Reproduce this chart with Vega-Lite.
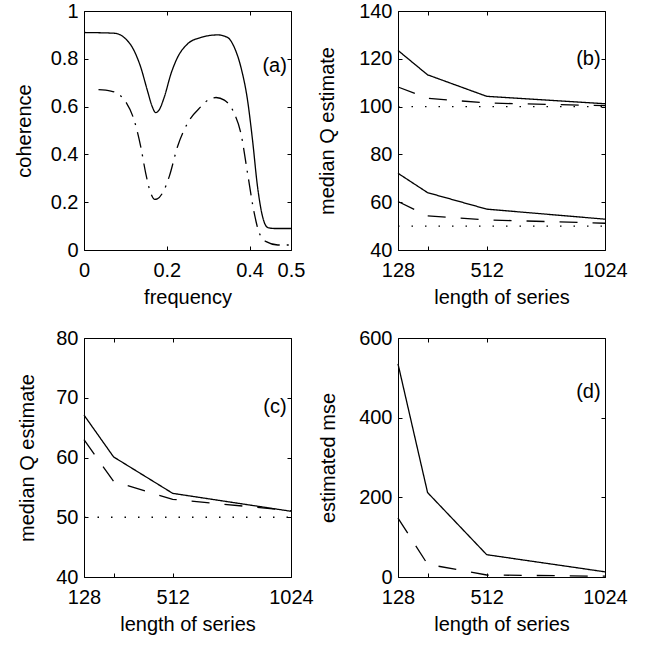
{
  "$schema": "https://vega.github.io/schema/vega-lite/v6.json",
  "background": "white",
  "padding": {"left": 13, "top": 0, "right": 5, "bottom": 5},
  "columns": 2,
  "spacing": {"row": 88, "column": 107},
  "bounds": "flush",
  "config": {
    "view": {"stroke": "black", "strokeWidth": 1},
    "font": "Liberation Sans",
    "text": {"font": "Liberation Sans", "fontSize": 20, "color": "black"},
    "axis": {
      "labelFont": "Liberation Sans", "labelFontSize": 20, "labelColor": "black",
      "titleFont": "Liberation Sans", "titleFontSize": 20, "titleFontWeight": "normal", "titleColor": "black",
      "tickColor": "black", "tickWidth": 1, "tickSize": -4, "domain": false, "grid": false,
      "labelOverlap": false, "labelFlush": false, "labelBound": false
    },
    "axisX": {"labelPadding": 14, "titlePadding": 7},
    "axisY": {"labelPadding": 10, "titlePadding": 10}
  },
  "datasets": {
    "a": [
      {"f": 0, "coh": 0.91, "series": "solid"},
      {"f": 0.073, "coh": 0.907, "series": "solid"},
      {"f": 0.097, "coh": 0.889, "series": "solid"},
      {"f": 0.121, "coh": 0.834, "series": "solid"},
      {"f": 0.137, "coh": 0.765, "series": "solid"},
      {"f": 0.153, "coh": 0.668, "series": "solid"},
      {"f": 0.165, "coh": 0.599, "series": "solid"},
      {"f": 0.173, "coh": 0.575, "series": "solid"},
      {"f": 0.181, "coh": 0.585, "series": "solid"},
      {"f": 0.194, "coh": 0.64, "series": "solid"},
      {"f": 0.21, "coh": 0.737, "series": "solid"},
      {"f": 0.226, "coh": 0.806, "series": "solid"},
      {"f": 0.25, "coh": 0.862, "series": "solid"},
      {"f": 0.282, "coh": 0.889, "series": "solid"},
      {"f": 0.323, "coh": 0.9, "series": "solid"},
      {"f": 0.347, "coh": 0.889, "series": "solid"},
      {"f": 0.363, "coh": 0.848, "series": "solid"},
      {"f": 0.379, "coh": 0.765, "series": "solid"},
      {"f": 0.395, "coh": 0.627, "series": "solid"},
      {"f": 0.407, "coh": 0.461, "series": "solid"},
      {"f": 0.419, "coh": 0.267, "series": "solid"},
      {"f": 0.431, "coh": 0.142, "series": "solid"},
      {"f": 0.444, "coh": 0.094, "series": "solid"},
      {"f": 0.46, "coh": 0.09, "series": "solid"},
      {"f": 0.5, "coh": 0.09, "series": "solid"},
      {"f": 0.035, "coh": 0.671, "series": "dashdot"},
      {"f": 0.065, "coh": 0.665, "series": "dashdot"},
      {"f": 0.085, "coh": 0.65, "series": "dashdot"},
      {"f": 0.101, "coh": 0.62, "series": "dashdot"},
      {"f": 0.121, "coh": 0.544, "series": "dashdot"},
      {"f": 0.137, "coh": 0.433, "series": "dashdot"},
      {"f": 0.149, "coh": 0.322, "series": "dashdot"},
      {"f": 0.161, "coh": 0.239, "series": "dashdot"},
      {"f": 0.171, "coh": 0.212, "series": "dashdot"},
      {"f": 0.177, "coh": 0.214, "series": "dashdot"},
      {"f": 0.194, "coh": 0.253, "series": "dashdot"},
      {"f": 0.206, "coh": 0.308, "series": "dashdot"},
      {"f": 0.226, "coh": 0.433, "series": "dashdot"},
      {"f": 0.25, "coh": 0.53, "series": "dashdot"},
      {"f": 0.282, "coh": 0.599, "series": "dashdot"},
      {"f": 0.302, "coh": 0.63, "series": "dashdot"},
      {"f": 0.319, "coh": 0.638, "series": "dashdot"},
      {"f": 0.339, "coh": 0.627, "series": "dashdot"},
      {"f": 0.363, "coh": 0.571, "series": "dashdot"},
      {"f": 0.379, "coh": 0.488, "series": "dashdot"},
      {"f": 0.395, "coh": 0.322, "series": "dashdot"},
      {"f": 0.411, "coh": 0.156, "series": "dashdot"},
      {"f": 0.423, "coh": 0.073, "series": "dashdot"},
      {"f": 0.44, "coh": 0.035, "series": "dashdot"},
      {"f": 0.468, "coh": 0.021, "series": "dashdot"},
      {"f": 0.5, "coh": 0.021, "series": "dashdot"}
    ],
    "b": [
      {"n": 128, "q": 123.5, "series": "solid", "grp": "hi"},
      {"n": 256, "q": 113.3, "series": "solid", "grp": "hi"},
      {"n": 512, "q": 104.3, "series": "solid", "grp": "hi"},
      {"n": 1024, "q": 101.2, "series": "solid", "grp": "hi"},
      {"n": 128, "q": 108.2, "series": "dashed", "grp": "hi"},
      {"n": 256, "q": 103.5, "series": "dashed", "grp": "hi"},
      {"n": 512, "q": 101.5, "series": "dashed", "grp": "hi"},
      {"n": 1024, "q": 100.4, "series": "dashed", "grp": "hi"},
      {"n": 128, "q": 100, "series": "dotted", "grp": "hi"},
      {"n": 1024, "q": 100, "series": "dotted", "grp": "hi"},
      {"n": 128, "q": 72.1, "series": "solid", "grp": "lo"},
      {"n": 256, "q": 64.0, "series": "solid", "grp": "lo"},
      {"n": 512, "q": 57.1, "series": "solid", "grp": "lo"},
      {"n": 1024, "q": 52.9, "series": "solid", "grp": "lo"},
      {"n": 128, "q": 60.3, "series": "dashed", "grp": "lo"},
      {"n": 256, "q": 54.3, "series": "dashed", "grp": "lo"},
      {"n": 512, "q": 52.6, "series": "dashed", "grp": "lo"},
      {"n": 1024, "q": 51.2, "series": "dashed", "grp": "lo"},
      {"n": 128, "q": 50, "series": "dotted", "grp": "lo"},
      {"n": 1024, "q": 50, "series": "dotted", "grp": "lo"}
    ],
    "c": [
      {"n": 128, "q": 67.1, "series": "solid"},
      {"n": 256, "q": 60.1, "series": "solid"},
      {"n": 512, "q": 54.0, "series": "solid"},
      {"n": 1024, "q": 51.0, "series": "solid"},
      {"n": 128, "q": 63.0, "series": "dashed"},
      {"n": 256, "q": 56.0, "series": "dashed"},
      {"n": 512, "q": 53.0, "series": "dashed"},
      {"n": 1024, "q": 51.1, "series": "dashed"},
      {"n": 128, "q": 50, "series": "dotted"},
      {"n": 1024, "q": 50, "series": "dotted"}
    ],
    "d": [
      {"n": 128, "mse": 535, "series": "solid"},
      {"n": 256, "mse": 212, "series": "solid"},
      {"n": 512, "mse": 56, "series": "solid"},
      {"n": 1024, "mse": 13, "series": "solid"},
      {"n": 128, "mse": 148, "series": "dashed"},
      {"n": 256, "mse": 32, "series": "dashed"},
      {"n": 512, "mse": 5, "series": "dashed"},
      {"n": 1024, "mse": 2, "series": "dashed"}
    ],
    "labels": [
      {"panel": "a", "x": 0.49, "y": 0.77, "text": "(a)"},
      {"panel": "b", "x": 1005, "y": 120, "text": "(b)"},
      {"panel": "c", "x": 1005, "y": 68.5, "text": "(c)"},
      {"panel": "d", "x": 1005, "y": 465, "text": "(d)"}
    ]
  },
  "concat": [
    {
      "width": 207, "height": 239,
      "layer": [
        {
          "data": {"name": "a"},
          "mark": {"type": "line", "color": "black", "strokeWidth": 1.3, "interpolate": "monotone"},
          "encoding": {
            "x": {"field": "f", "type": "quantitative", "scale": {"domain": [0, 0.5], "nice": false, "zero": false},
                  "axis": {"orient": "bottom", "values": [0, 0.2, 0.4, 0.5], "format": "~g", "title": "frequency"}},
            "y": {"field": "coh", "type": "quantitative", "scale": {"domain": [0, 1], "nice": false},
                  "axis": {"orient": "left", "values": [0, 0.2, 0.4, 0.6, 0.8, 1], "format": "~g", "title": "coherence", "titleX": -50}},
            "strokeDash": {"field": "series", "type": "nominal", "legend": null,
                  "scale": {"domain": ["solid", "dashed", "dashdot", "dotted"], "range": [[1, 0], [18, 15], [16, 7, 2, 7], [1.5, 12]]}}
          }
        },
        {
          "data": {"name": "a"},
          "mark": {"type": "line", "strokeOpacity": 0},
          "encoding": {
            "x": {"field": "f", "type": "quantitative", "axis": {"orient": "top", "values": [0, 0.2, 0.4, 0.5], "labels": false, "title": null}},
            "y": {"field": "coh", "type": "quantitative", "axis": {"orient": "right", "values": [0, 0.2, 0.4, 0.6, 0.8, 1], "labels": false, "title": null}}
          }
        },
        {
          "data": {"name": "labels"},
          "transform": [{"filter": "datum.panel === 'a'"}],
          "mark": {"type": "text", "align": "right", "baseline": "middle"},
          "encoding": {
            "x": {"field": "x", "type": "quantitative", "axis": null},
            "y": {"field": "y", "type": "quantitative", "axis": null},
            "text": {"field": "text"}
          }
        }
      ]
    },
    {
      "width": 207, "height": 239,
      "layer": [
        {
          "data": {"name": "b"},
          "mark": {"type": "line", "color": "black", "strokeWidth": 1.3},
          "encoding": {
            "x": {"field": "n", "type": "quantitative", "scale": {"domain": [128, 1024], "nice": false, "zero": false},
                  "axis": {"orient": "bottom", "values": [128, 256, 512, 1024], "labelExpr": "datum.value == 256 ? '' : datum.label", "format": "d", "title": "length of series"}},
            "y": {"field": "q", "type": "quantitative", "scale": {"domain": [40, 140], "nice": false, "zero": false},
                  "axis": {"orient": "left", "values": [40, 60, 80, 100, 120, 140], "title": "median Q estimate", "titleX": -61}},
            "detail": {"field": "grp"},
            "strokeDash": {"field": "series", "type": "nominal", "legend": null,
                  "scale": {"domain": ["solid", "dashed", "dashdot", "dotted"], "range": [[1, 0], [18, 15], [16, 7, 2, 7], [1.5, 12]]}}
          }
        },
        {
          "data": {"name": "b"},
          "mark": {"type": "line", "strokeOpacity": 0},
          "encoding": {
            "x": {"field": "n", "type": "quantitative", "axis": {"orient": "top", "values": [128, 256, 512, 1024], "labels": false, "title": null}},
            "y": {"field": "q", "type": "quantitative", "axis": {"orient": "right", "values": [40, 60, 80, 100, 120, 140], "labels": false, "title": null}}
          }
        },
        {
          "data": {"name": "labels"},
          "transform": [{"filter": "datum.panel === 'b'"}],
          "mark": {"type": "text", "align": "right", "baseline": "middle"},
          "encoding": {
            "x": {"field": "x", "type": "quantitative", "axis": null},
            "y": {"field": "y", "type": "quantitative", "axis": null},
            "text": {"field": "text"}
          }
        }
      ]
    },
    {
      "width": 207, "height": 239,
      "layer": [
        {
          "data": {"name": "c"},
          "mark": {"type": "line", "color": "black", "strokeWidth": 1.3},
          "encoding": {
            "x": {"field": "n", "type": "quantitative", "scale": {"domain": [128, 1024], "nice": false, "zero": false},
                  "axis": {"orient": "bottom", "values": [128, 256, 512, 1024], "labelExpr": "datum.value == 256 ? '' : datum.label", "format": "d", "title": "length of series"}},
            "y": {"field": "q", "type": "quantitative", "scale": {"domain": [40, 80], "nice": false, "zero": false},
                  "axis": {"orient": "left", "values": [40, 50, 60, 70, 80], "title": "median Q estimate", "titleX": -47}},
            "strokeDash": {"field": "series", "type": "nominal", "legend": null,
                  "scale": {"domain": ["solid", "dashed", "dashdot", "dotted"], "range": [[1, 0], [18, 15], [16, 7, 2, 7], [1.5, 12]]}}
          }
        },
        {
          "data": {"name": "c"},
          "mark": {"type": "line", "strokeOpacity": 0},
          "encoding": {
            "x": {"field": "n", "type": "quantitative", "axis": {"orient": "top", "values": [128, 256, 512, 1024], "labels": false, "title": null}},
            "y": {"field": "q", "type": "quantitative", "axis": {"orient": "right", "values": [40, 50, 60, 70, 80], "labels": false, "title": null}}
          }
        },
        {
          "data": {"name": "labels"},
          "transform": [{"filter": "datum.panel === 'c'"}],
          "mark": {"type": "text", "align": "right", "baseline": "middle"},
          "encoding": {
            "x": {"field": "x", "type": "quantitative", "axis": null},
            "y": {"field": "y", "type": "quantitative", "axis": null},
            "text": {"field": "text"}
          }
        }
      ]
    },
    {
      "width": 207, "height": 239,
      "layer": [
        {
          "data": {"name": "d"},
          "mark": {"type": "line", "color": "black", "strokeWidth": 1.3},
          "encoding": {
            "x": {"field": "n", "type": "quantitative", "scale": {"domain": [128, 1024], "nice": false, "zero": false},
                  "axis": {"orient": "bottom", "values": [128, 256, 512, 1024], "labelExpr": "datum.value == 256 ? '' : datum.label", "format": "d", "title": "length of series"}},
            "y": {"field": "mse", "type": "quantitative", "scale": {"domain": [0, 600], "nice": false},
                  "axis": {"orient": "left", "values": [0, 200, 400, 600], "title": "estimated mse", "titleX": -60}},
            "strokeDash": {"field": "series", "type": "nominal", "legend": null,
                  "scale": {"domain": ["solid", "dashed", "dashdot", "dotted"], "range": [[1, 0], [18, 15], [16, 7, 2, 7], [1.5, 12]]}}
          }
        },
        {
          "data": {"name": "d"},
          "mark": {"type": "line", "strokeOpacity": 0},
          "encoding": {
            "x": {"field": "n", "type": "quantitative", "axis": {"orient": "top", "values": [128, 256, 512, 1024], "labels": false, "title": null}},
            "y": {"field": "mse", "type": "quantitative", "axis": {"orient": "right", "values": [0, 200, 400, 600], "labels": false, "title": null}}
          }
        },
        {
          "data": {"name": "labels"},
          "transform": [{"filter": "datum.panel === 'd'"}],
          "mark": {"type": "text", "align": "right", "baseline": "middle"},
          "encoding": {
            "x": {"field": "x", "type": "quantitative", "axis": null},
            "y": {"field": "y", "type": "quantitative", "axis": null},
            "text": {"field": "text"}
          }
        }
      ]
    }
  ]
}
